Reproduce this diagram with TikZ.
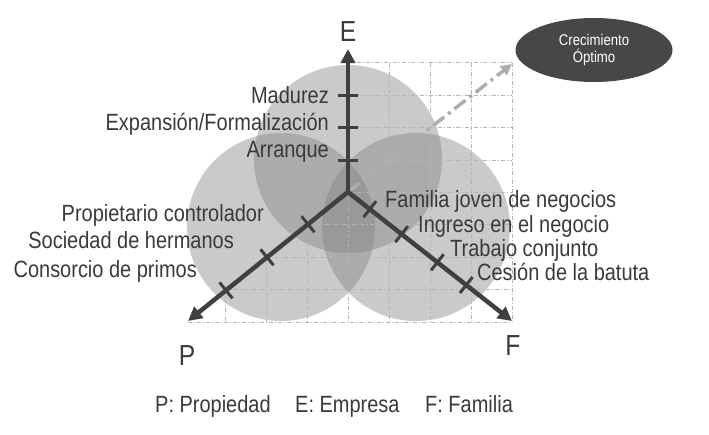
\documentclass[tikz,border=0pt]{standalone}
\usepackage{fontspec}
\setmainfont{Liberation Sans}[FakeStretch=0.85]
\usepackage{tikz}
\usetikzlibrary{arrows.meta,calc,shapes.geometric}
\definecolor{colTinta}{HTML}{3A3A3A}
\definecolor{colEje}{HTML}{404040}
\definecolor{colMalla}{HTML}{B4B4B4}
\definecolor{colRumbo}{HTML}{ADADAD}
\definecolor{colMeta}{HTML}{474747}

\begin{document}
\begin{tikzpicture}[x=1pt,y=-1pt,
	circulo/.style={fill=black!50,fill opacity=0.42},
	malla/.style={colMalla,line width=0.9pt,dash pattern=on 4pt off 2pt on 1pt off 2pt},
	rumbo/.style={colRumbo,line width=3.5pt,dash pattern=on 14pt off 5pt on 3pt off 5pt,-{Triangle[length=11pt,width=11pt]}},
	eje/.style={colEje,line width=4.5pt,-{Triangle[length=14pt,width=14pt]}},
	marca/.style={colEje,line width=3pt},
	rotulo/.style={text=colTinta,font=\fontsize{23.5}{28}\selectfont,inner sep=0pt},
	letra/.style={text=colTinta,font=\fontsize{29}{34}\selectfont,inner sep=0pt},
	meta/.style={ellipse,fill=colMeta,text=white,minimum width=157pt,minimum height=64pt,inner sep=0pt,align=center,font=\fontsize{15.5}{17}\selectfont}]
	\useasboundingbox (0,0) rectangle (709,434);
	\fill[circulo] (348,159) circle (94pt);
	\fill[circulo] (281,227) circle (94pt);
	\fill[circulo] (416,227) circle (94pt);
	\foreach \k in {0,...,4}
		\draw[malla] ({348+41*\k},62.8) -- ({348+41*\k},322);
	\foreach \k/\j in {1/3,2/2,3/1}
		\draw[malla] ({348-41*\k},{322-32.4*\j}) -- ({348-41*\k},322);
	\foreach \j/\x in {0/188,1/225,2/266,3/307,4/348,5/348,6/348,7/348,8/348}
		\draw[malla] (\x,{322-32.4*\j}) -- (512,{322-32.4*\j});
	\coordinate (O) at (348,192);
	\coordinate (tipE) at (348,49);
	\coordinate (tipP) at (188,321);
	\coordinate (tipF) at (512,321);
	\coordinate (crece) at (512,64);
	\draw[rumbo] (O) -- (crece);
	\draw[eje] (O) -- (tipE);
	\draw[eje] (O) -- (tipP);
	\draw[eje] (O) -- (tipF);
	\foreach \y in {95,127.6,160}
		\draw[marca] (338,\y) -- (358,\y);
	\foreach \t in {0.25,0.506,0.7625}
		\draw[marca] ($(O)!\t!(tipP)+(-6.5,-8)$) -- ($(O)!\t!(tipP)+(6.5,8)$);
	\foreach \t in {0.133,0.327,0.545,0.721}
		\draw[marca] ($(O)!\t!(tipF)+(-6.3,8)$) -- ($(O)!\t!(tipF)+(6.3,-8)$);
	\node[letra,anchor=base] (E) at (348,41) {E};
	\node[letra,anchor=base] (P) at (187,365) {P};
	\node[letra,anchor=base] (F) at (513,355) {F};
	\node[rotulo,anchor=base east] (madurez) at (329,103) {Madurez};
	\node[rotulo,anchor=base east] (expansion) at (329,130) {Expansión/Formalización};
	\node[rotulo,anchor=base east] (arranque) at (329,157) {Arranque};
	\node[rotulo,anchor=base east] (propietario) at (264,221) {Propietario controlador};
	\node[rotulo,anchor=base east] (hermanos) at (234,248) {Sociedad de hermanos};
	\node[rotulo,anchor=base east] (primos) at (197,277) {Consorcio de primos};
	\node[rotulo,anchor=base west] (joven) at (385,207) {Familia joven de negocios};
	\node[rotulo,anchor=base west] (ingreso) at (418,232) {Ingreso en el negocio};
	\node[rotulo,anchor=base west] (trabajo) at (450,256) {Trabajo conjunto};
	\node[rotulo,anchor=base west] (cesion) at (477,280) {Cesión de la batuta};
	\node[meta] (optimo) at (594,50) {Crecimiento\\Óptimo};
	\node[rotulo,anchor=base west] (legP) at (155,412) {P: Propiedad};
	\node[rotulo,anchor=base west] (legE) at (295,412) {E: Empresa};
	\node[rotulo,anchor=base west] (legF) at (425,412) {F: Familia};
\end{tikzpicture}
\end{document}
